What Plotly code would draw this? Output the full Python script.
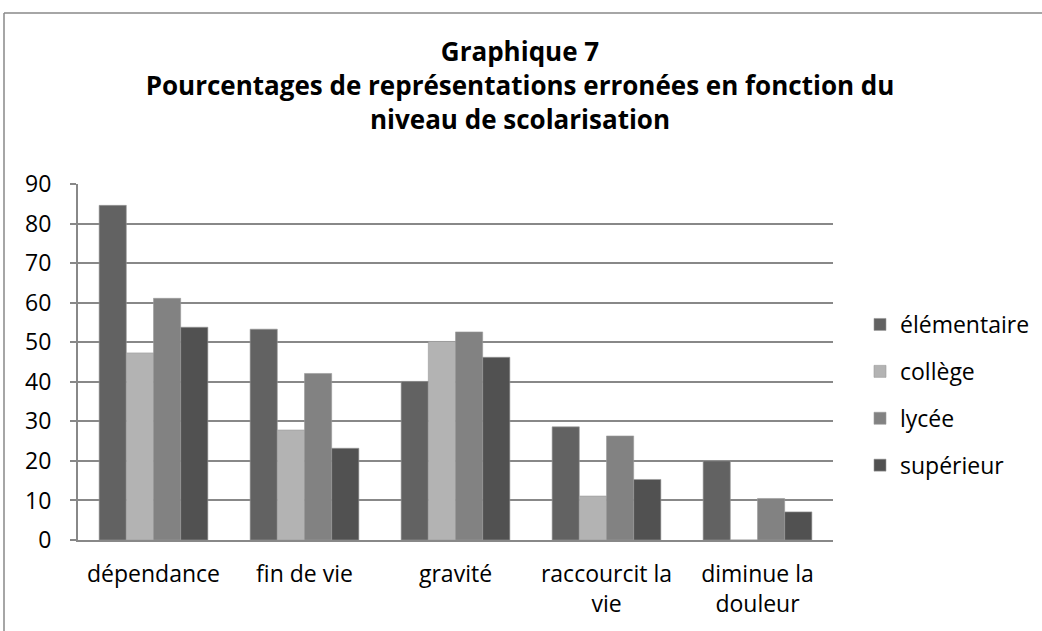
import plotly.graph_objects as go

categories = ["dépendance", "fin de vie", "gravité", "raccourcit la<br>vie", "diminue la<br>douleur"]
series_names = ["élémentaire", "collège", "lycée", "supérieur"]
elementaire = [84.6, 53.3, 40.1, 28.6, 20.0]
college = [47.3, 27.8, 50.2, 11.1, 0]
lycee = [61.1, 42.1, 52.6, 26.3, 10.5]
superieur = [53.8, 23.2, 46.2, 15.3, 7.1]
colors = ["#626262", "#b3b3b3", "#828282", "#515151"]
y_ticks = [0, 10, 20, 30, 40, 50, 60, 70, 80, 90]

values = [elementaire, college, lycee, superieur]

FONT = "Open Sans, Lato, sans-serif"

fig = go.Figure()
for name, vals, col in zip(series_names, values, colors):
    fig.add_trace(go.Bar(
        x=categories, y=vals, name=name, legendgroup=name,
        marker=dict(color=col, line=dict(color="#9a9a9a", width=0.6)),
    ))

W, H = 1042, 631
L, R, T, B = 78, 209, 184, 91
pw, ph = W - L - R, H - T - B

def px_x(x):
    return (x - L) / pw

def px_y(y):
    return (H - B - y) / ph

fig.update_layout(
    width=W, height=H,
    margin=dict(l=L, r=R, t=T, b=B, autoexpand=False),
    paper_bgcolor="white", plot_bgcolor="white",
    barmode="group", bargap=0.28, bargroupgap=0,
    font=dict(family=FONT, color="#000000", size=23),
    title=dict(
        text="<b>Graphique 7<br>Pourcentages de représentations erronées en fonction du<br>niveau de scolarisation</b>",
        x=px_x(520), xref="paper", xanchor="center",
        y=1 - 61 / H, yref="container", yanchor="middle",
        font=dict(size=26, family=FONT),
    ),
    legend=dict(
        x=860 / W, xref="container", y=1 - 303 / H, yref="container",
        xanchor="left", yanchor="top",
        font=dict(size=23), tracegroupgap=14, itemwidth=30,
        bgcolor="rgba(0,0,0,0)",
    ),
    xaxis=dict(
        showgrid=False, showline=True, linecolor="#888888", linewidth=2,
        ticks="", tickfont=dict(size=23), ticklabelstandoff=12,
    ),
    yaxis=dict(
        range=[0, 90], tickvals=y_ticks, showgrid=True, gridcolor="#888888", gridwidth=2,
        showline=True, linecolor="#888888", linewidth=2,
        ticks="outside", ticklen=6, tickcolor="#888888", tickwidth=2,
        tickfont=dict(size=23), ticklabelstandoff=14, zeroline=False,
    ),
)

# outer chart frame (top and left edges visible)
fig.add_shape(type="line", xref="paper", yref="paper",
              x0=px_x(4), x1=px_x(1045), y0=px_y(13), y1=px_y(13),
              line=dict(color="#888888", width=1.5))
fig.add_shape(type="line", xref="paper", yref="paper",
              x0=px_x(4), x1=px_x(4), y0=px_y(13), y1=px_y(640),
              line=dict(color="#888888", width=1.5))

fig.write_html("out.html", config={"displayModeBar": False},
               post_script="document.body.style.margin='0';")
